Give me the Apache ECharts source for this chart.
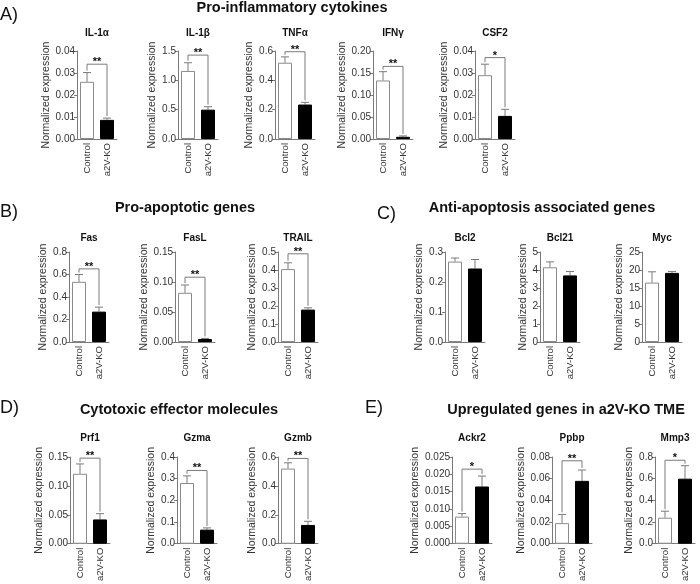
<!DOCTYPE html>
<html>
<head>
<meta charset="utf-8">
<script src="https://cdn.jsdelivr.net/npm/echarts@6/dist/echarts.min.js"></script>
<style>
  html, body { margin: 0; padding: 0; background: #fff; }
  #main { width: 700px; height: 584px; }
</style>
</head>
<body>
<div id="main"></div>
<script>
// gene panels
var genes = ['IL-1α', 'IL-1β', 'TNFα', 'IFNγ', 'CSF2', 'Fas', 'FasL', 'TRAIL', 'Bcl2', 'Bcl21', 'Myc', 'Prf1', 'Gzma', 'Gzmb', 'Ackr2', 'Ppbp', 'Mmp3'];
var groups = ['Control', 'a2V-KO'];
var ctlMean = [0.026, 1.16, 0.52, 0.133, 0.029, 0.535, 0.082, 0.405, 0.268, 4.15, 16.5, 0.121, 0.28, 0.52, 0.0078, 0.019, 0.24];
var ctlErr = [0.0302, 1.30, 0.56, 0.153, 0.034, 0.60, 0.095, 0.44, 0.28, 4.45, 19.5, 0.138, 0.313, 0.56, 0.0087, 0.027, 0.30];
var koMean = [0.0087, 0.50, 0.235, 0.005, 0.0105, 0.27, 0.005, 0.18, 0.245, 3.7, 19.2, 0.042, 0.065, 0.13, 0.0165, 0.058, 0.60];
var koErr = [0.0095, 0.55, 0.25, 0.007, 0.0135, 0.31, 0.006, 0.19, 0.275, 3.92, 19.6, 0.052, 0.073, 0.155, 0.0195, 0.068, 0.72];
var axisMax = [0.04, 1.5, 0.6, 0.2, 0.04, 0.8, 0.15, 0.5, 0.3, 5, 25, 0.15, 0.4, 0.6, 0.025, 0.08, 0.8];
var axisStep = [0.01, 0.5, 0.2, 0.05, 0.01, 0.2, 0.05, 0.1, 0.1, 1, 5, 0.05, 0.1, 0.2, 0.005, 0.02, 0.2];
var tickDecimals = [2, 1, 1, 2, 2, 1, 2, 1, 1, 0, 0, 2, 1, 1, 3, 2, 1];
var sigLevel = [0.034, 1.43, 0.595, 0.165, 0.037, 0.65, 0.108, 0.49, null, null, null, 0.148, 0.338, 0.59, 0.0215, 0.0765, 0.77];
var sigMark = ['**', '**', '**', '**', '*', '**', '**', '**', '', '', '', '**', '**', '**', '*', '**', '*'];

var sections = [
    { letter: 'A)', title: 'Pro-inflammatory cytokines', lx: 0, ly: 15, tx: 292, ty: 8 },
    { letter: 'B)', title: 'Pro-apoptotic genes', lx: 0, ly: 212, tx: 185, ty: 208 },
    { letter: 'C)', title: 'Anti-apoptosis associated genes', lx: 377, ly: 214, tx: 542, ty: 208 },
    { letter: 'D)', title: 'Cytotoxic effector molecules', lx: 0, ly: 408, tx: 179, ty: 410 },
    { letter: 'E)', title: 'Upregulated genes in a2V-KO TME', lx: 365, ly: 408, tx: 566, ty: 410 }
];

// layout of the small plots
var gridLeft = [77, 178, 275, 373, 475, 69, 175, 278, 445, 540, 642, 70, 177, 278, 452, 552, 655];
var gridRow = [0, 0, 0, 0, 0, 1, 1, 1, 1, 1, 1, 2, 2, 2, 2, 2, 2];
var rowTop = [51, 252, 457];
var rowHeight = [88, 90, 89];
var rowTitleY = [33, 238, 438];
var font = 'Liberation Sans';
var axisColor = '#7a7a7a';
var textColor = '#333';

let myChart = echarts.init(document.getElementById('main'))

function labelWidth(i) {
    var s = axisMax[i].toFixed(tickDecimals[i]);
    var w = 0;
    for (var k = 0; k < s.length; k++) w += (s[k] === '.' ? 2.8 : 5.6);
    return w;
}

var grids = [], xAxes = [], yAxes = [], series = [], graphics = [];

sections.forEach(function (s) {
    graphics.push({
        type: 'text', x: s.lx, y: s.ly,
        style: { text: s.letter, font: '18px ' + font, fill: '#111', verticalAlign: 'middle' }
    });
    graphics.push({
        type: 'text', x: s.tx, y: s.ty,
        style: { text: s.title, font: 'bold 14.5px ' + font, fill: '#111', align: 'center', verticalAlign: 'middle' }
    });
});

genes.forEach(function (g, i) {
    var r = gridRow[i];
    grids.push({ left: gridLeft[i], top: rowTop[r], width: 40, height: rowHeight[r], containLabel: false });
    graphics.push({
        type: 'text', x: gridLeft[i] + 20, y: rowTitleY[r],
        style: { text: g, font: 'bold 10px ' + font, fill: '#111', align: 'center', verticalAlign: 'middle' }
    });
    xAxes.push({
        gridIndex: i, type: 'category', data: groups,
        axisLine: { show: true, lineStyle: { color: axisColor } },
        axisTick: { show: false },
        axisLabel: { rotate: 90, interval: 0, fontSize: 9.5, fontFamily: font, color: textColor, margin: 4 }
    });
    yAxes.push({
        gridIndex: i, type: 'value', min: 0, max: axisMax[i], interval: axisStep[i],
        splitLine: { show: false },
        axisLine: { show: true, lineStyle: { color: axisColor } },
        axisTick: { show: true, length: 3, lineStyle: { color: axisColor } },
        axisLabel: {
            fontSize: 10, fontFamily: font, color: textColor, margin: 2,
            formatter: function (v) { return (+v).toFixed(tickDecimals[i]) }
        },
        name: 'Normalized expression', nameLocation: 'middle', nameGap: labelWidth(i) + 6,
        nameTextStyle: { fontSize: 10.5, fontFamily: font, color: textColor }
    });
    series.push({
        type: 'bar', xAxisIndex: i, yAxisIndex: i, barWidth: 14, animation: false,
        data: [
            { value: ctlMean[i], itemStyle: { color: '#fff', borderColor: '#8a8a8a', borderWidth: 1 } },
            { value: koMean[i], itemStyle: { color: '#000', borderColor: '#000', borderWidth: 1 } }
        ]
    });
    // upper error bars
    series.push({
        type: 'custom', xAxisIndex: i, yAxisIndex: i, animation: false, silent: true,
        data: [[0, ctlMean[i], ctlErr[i]], [1, koMean[i], koErr[i]]],
        renderItem: function (params, api) {
            var p1 = api.coord([api.value(0), api.value(1)]);
            var p2 = api.coord([api.value(0), api.value(2)]);
            return {
                type: 'group', children: [
                    { type: 'line', shape: { x1: p1[0], y1: p1[1], x2: p2[0], y2: p2[1] }, style: { stroke: axisColor, lineWidth: 1 } },
                    { type: 'line', shape: { x1: p2[0] - 4, y1: p2[1], x2: p2[0] + 4, y2: p2[1] }, style: { stroke: axisColor, lineWidth: 1 } }
                ]
            };
        }
    });
    // significance bracket
    if (sigLevel[i] !== null) {
        series.push({
            type: 'custom', xAxisIndex: i, yAxisIndex: i, animation: false, silent: true,
            data: [[0, sigLevel[i], ctlErr[i], koErr[i]]],
            renderItem: function (params, api) {
                var a = api.coord([0, api.value(1)]);
                var b = api.coord([1, api.value(1)]);
                var c = api.coord([0, api.value(2)]);
                var k = api.coord([1, api.value(3)]);
                return {
                    type: 'group', children: [
                        {
                            type: 'polyline',
                            shape: { points: [[a[0], c[1] - 2], [a[0], a[1]], [b[0], b[1]], [b[0], k[1] - 2]] },
                            style: { stroke: axisColor, lineWidth: 1, fill: null }
                        },
                        {
                            type: 'text', x: (a[0] + b[0]) / 2, y: a[1] - 2,
                            style: { text: sigMark[i], align: 'center', verticalAlign: 'middle', font: 'bold 11px ' + font, fill: '#111' }
                        }
                    ]
                };
            }
        });
    }
});

var option = {
    backgroundColor: '#fff',
    animation: false,
    grid: grids,
    xAxis: xAxes,
    yAxis: yAxes,
    series: series,
    graphic: graphics
};

myChart.setOption(option)
</script>
</body>
</html>
